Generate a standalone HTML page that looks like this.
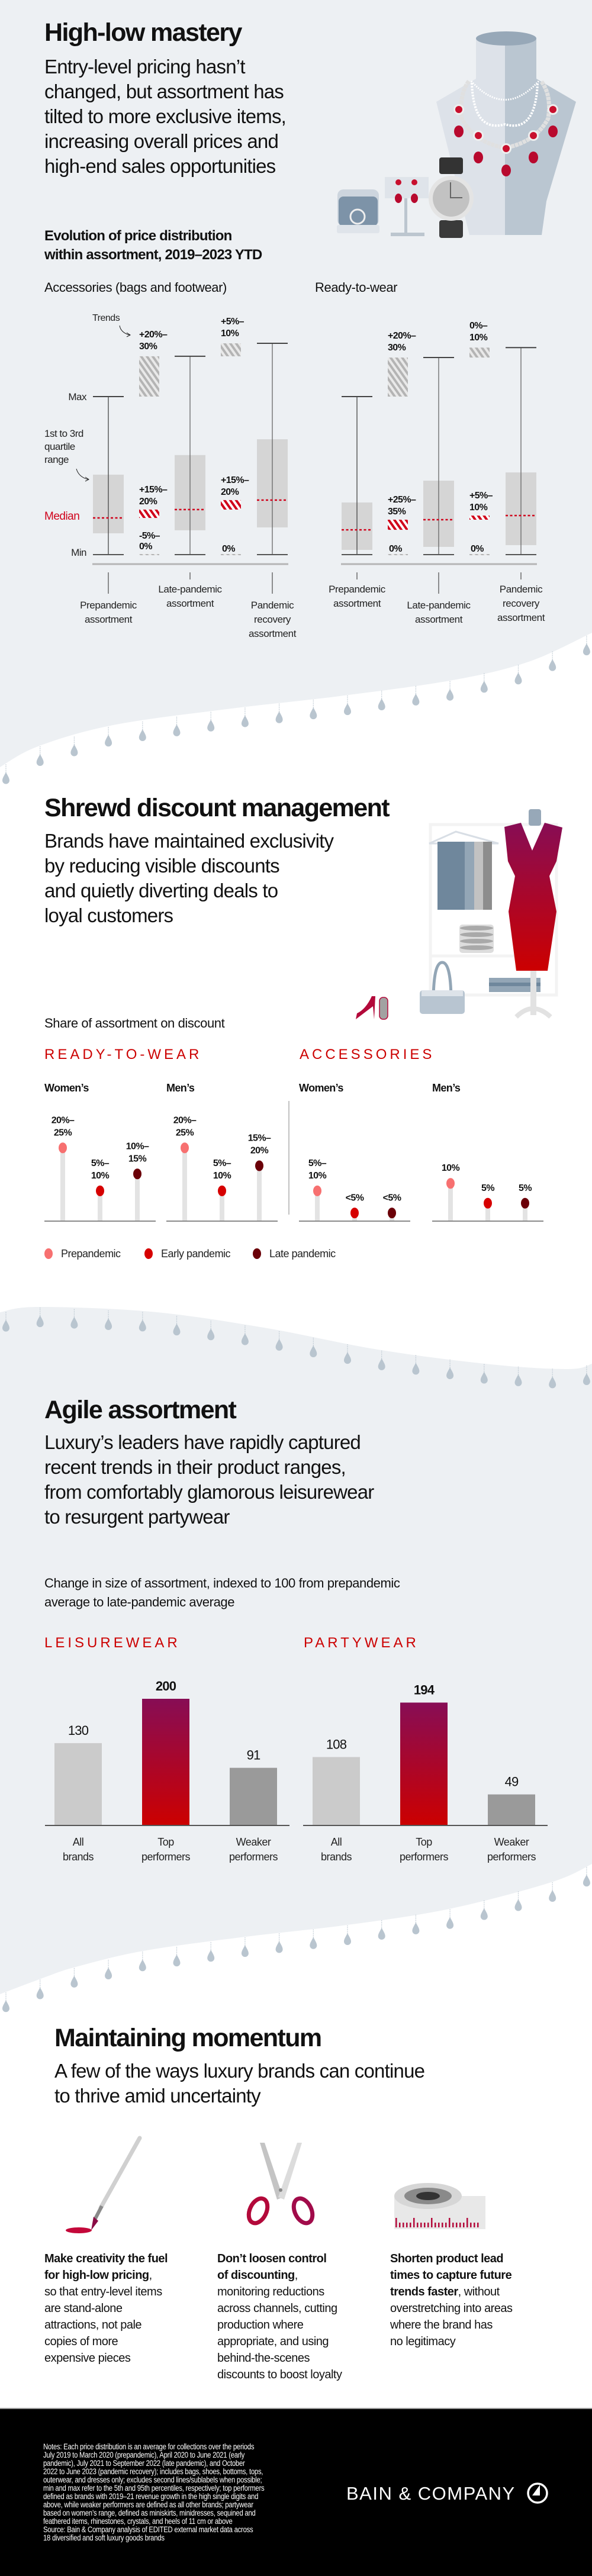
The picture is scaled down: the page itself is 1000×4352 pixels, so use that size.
<!DOCTYPE html>
<html><head><meta charset="utf-8">
<style>
html,body{margin:0;padding:0}
body{width:1000px;height:4352px;position:relative;overflow:hidden;background:#fff;font-family:"Liberation Sans",sans-serif;color:#111}
#art{position:absolute;left:0;top:0}
.t{position:absolute;margin:0;white-space:nowrap}
.h{font-size:43px;font-weight:bold;letter-spacing:-1.6px;line-height:50px}
.sub{font-size:33px;letter-spacing:-0.8px;line-height:42px}
.cap{font-size:22px;letter-spacing:-0.4px;line-height:32px}
.sec{font-size:24px;letter-spacing:5px;color:#cc0000;line-height:30px}
.col{font-size:20px;line-height:28px;letter-spacing:-0.5px}
</style></head>
<body>
<svg id="art" width="1000" height="4352">
<defs>
<pattern id="hatchGrey" width="8" height="8" patternUnits="userSpaceOnUse" patternTransform="rotate(-35)"><rect width="8" height="8" fill="#e9e9e9"/><rect width="4" height="8" fill="#b4b4b4"/></pattern>
<pattern id="hatchRed" width="8" height="8" patternUnits="userSpaceOnUse" patternTransform="rotate(-35)"><rect width="8" height="8" fill="#fff"/><rect width="4" height="8" fill="#d0021b"/></pattern>
<linearGradient id="barGrad" x1="0" y1="0" x2="0" y2="1"><stop offset="0" stop-color="#870d55"/><stop offset="1" stop-color="#cc0000"/></linearGradient>
</defs>
</svg>

<h1 class="t h" style="left:75px;top:30px">High-low mastery</h1>
<p class="t sub" style="left:75px;top:92px">Entry-level pricing hasn’t<br>changed, but assortment has<br>tilted to more exclusive items,<br>increasing overall prices and<br>high-end sales opportunities</p>
<p class="t" style="left:75px;top:383px;font-size:24px;font-weight:bold;letter-spacing:-0.8px;line-height:32px">Evolution of price distribution<br>within assortment, 2019–2023 YTD</p>
<p class="t cap" style="left:75px;top:470px">Accessories (bags and footwear)</p>
<p class="t cap" style="left:532px;top:470px">Ready-to-wear</p>

<h1 class="t h" style="left:75px;top:1340px">Shrewd discount management</h1>
<p class="t sub" style="left:75px;top:1400px">Brands have maintained exclusivity<br>by reducing visible discounts<br>and quietly diverting deals to<br>loyal customers</p>
<p class="t cap" style="left:75px;top:1713px">Share of assortment on discount</p>
<p class="t sec" style="left:75px;top:1767px">READY-TO-WEAR</p>
<p class="t sec" style="left:506px;top:1767px">ACCESSORIES</p>

<h1 class="t h" style="left:75px;top:2357px">Agile assortment</h1>
<p class="t sub" style="left:75px;top:2416px">Luxury’s leaders have rapidly captured<br>recent trends in their product ranges,<br>from comfortably glamorous leisurewear<br>to resurgent partywear</p>
<p class="t cap" style="left:75px;top:2659px">Change in size of assortment, indexed to 100 from prepandemic<br>average to late-pandemic average</p>
<p class="t sec" style="left:75px;top:2761px">LEISUREWEAR</p>
<p class="t sec" style="left:513px;top:2761px">PARTYWEAR</p>

<h1 class="t h" style="left:92px;top:3418px">Maintaining momentum</h1>
<p class="t sub" style="left:92px;top:3478px">A few of the ways luxury brands can continue<br>to thrive amid uncertainty</p>
<p class="t col" style="left:75px;top:3802px"><b>Make creativity the fuel<br>for high-low pricing</b>,<br>so that entry-level items<br>are stand-alone<br>attractions, not pale<br>copies of more<br>expensive pieces</p>
<p class="t col" style="left:367px;top:3802px"><b>Don’t loosen control<br>of discounting</b>,<br>monitoring reductions<br>across channels, cutting<br>production where<br>appropriate, and using<br>behind-the-scenes<br>discounts to boost loyalty</p>
<p class="t col" style="left:659px;top:3802px"><b>Shorten product lead<br>times to capture future<br>trends faster</b>, without<br>overstretching into areas<br>where the brand has<br>no legitimacy</p>

<p class="t" style="left:73px;top:4127px;color:#fff;font-size:13.5px;line-height:14px;letter-spacing:-0.3px;transform:scaleX(0.84);transform-origin:left top">Notes: Each price distribution is an average for collections over the periods<br>July 2019 to March 2020 (prepandemic), April 2020 to June 2021 (early<br>pandemic), July 2021 to September 2022 (late pandemic), and October<br>2022 to June 2023 (pandemic recovery); includes bags, shoes, bottoms, tops,<br>outerwear, and dresses only; excludes second lines/sublabels when possible;<br>min and max refer to the 5th and 95th percentiles, respectively; top performers<br>defined as brands with 2019–21 revenue growth in the high single digits and<br>above, while weaker performers are defined as all other brands; partywear<br>based on women’s range, defined as miniskirts, minidresses, sequined and<br>feathered items, rhinestones, crystals, and heels of 11 cm or above<br>Source: Bain &amp; Company analysis of EDITED external market data across<br>18 diversified and soft luxury goods brands</p>
<p class="t" style="left:585px;top:4195px;color:#fff;font-size:31px;letter-spacing:1.5px;line-height:36px">BAIN &amp; COMPANY</p>

<script>
const NS="http://www.w3.org/2000/svg";
const svg=document.getElementById('art');
function el(tag,attrs,parent){const e=document.createElementNS(NS,tag);for(const k in attrs)e.setAttribute(k,attrs[k]);(parent||svg).appendChild(e);return e;}
function txt(x,y,s,attrs,parent){const e=el('text',Object.assign({x:x,y:y},attrs),parent);e.textContent=s;return e;}

/* ---------- chart data: price distribution box plots (index, min=0, prepandemic max=100) ---------- */
const boxCategories=[["Prepandemic","assortment"],["Late-pandemic","assortment"],["Pandemic","recovery","assortment"]];
const accMax=[100,125.5,133.7];
const accQ3=[50.6,63,73];
const accMedian=[23.2,28.5,34.5];
const accQ1=[13.5,15.4,17.2];
const accMin=[0,0,0];
const rtwMax=[100,124.7,131];
const rtwQ3=[33,46.8,52];
const rtwMedian=[15.7,22.1,24.7];
const rtwQ1=[3,4.9,6];
const rtwMin=[0,0,0];
const accTopTrend=[["+20%–","30%"],["+5%–","10%"]];
const accMedTrend=[["+15%–","20%"],["+15%–","20%"]];
const accMinTrend=[["-5%–","0%"],["0%"]];
const rtwTopTrend=[["+20%–","30%"],["0%–","10%"]];
const rtwMedTrend=[["+25%–","35%"],["+5%–","10%"]];
const rtwMinTrend=[["0%"],["0%"]];

/* ---------- chart data: share on discount (%) ---------- */
const discountPanels=["Women’s","Men’s","Women’s","Men’s"];
const discountPeriods=["Prepandemic","Early pandemic","Late pandemic"];
const rtwWomenValues=[22.5,9.3,14.5];
const rtwMenValues=[22.5,9.3,17];
const accWomenValues=[9.3,2.5,2.5];
const accMenValues=[11.6,5.5,5.5];
const rtwWomenLabels=[["20%–","25%"],["5%–","10%"],["10%–","15%"]];
const rtwMenLabels=[["20%–","25%"],["5%–","10%"],["15%–","20%"]];
const accWomenLabels=[["5%–","10%"],["<5%"],["<5%"]];
const accMenLabels=[["10%"],["5%"],["5%"]];

/* ---------- chart data: assortment size index ---------- */
const barCategories=[["All","brands"],["Top","performers"],["Weaker","performers"]];
const leisureValues=[130,200,91];
const partyValues=[108,194,49];

/* ---------- backgrounds & waves ---------- */
function smoothPath(p){let d='';for(let i=0;i<p.length-1;i++){const p0=p[Math.max(i-1,0)],p1=p[i],p2=p[i+1],p3=p[Math.min(i+2,p.length-1)];
 const c1=[p1[0]+(p2[0]-p0[0])/6,p1[1]+(p2[1]-p0[1])/6],c2=[p2[0]-(p3[0]-p1[0])/6,p2[1]-(p3[1]-p1[1])/6];
 d+=` C${c1[0]},${c1[1]} ${c2[0]},${c2[1]} ${p2[0]},${p2[1]}`;}return d;}
function yAt(p,x){for(let i=0;i<p.length-1;i++){if(x>=p[i][0]&&x<=p[i+1][0]){const t=(x-p[i][0])/(p[i+1][0]-p[i][0]);return p[i][1]+t*(p[i+1][1]-p[i][1]);}}return p[p.length-1][1];}
function drops(p,x0,name){for(let x=x0;x<1000;x+=57.7){const y=yAt(p,x)+1;
 const ln=el('line',{x1:x,y1:y,x2:x,y2:y+14,stroke:'#b9c5cf','stroke-width':1.2,'stroke-dasharray':'1.5,1.5'});
 
 
 const t=y+13;
 const dp=el('path',{d:`M${x},${t} C${x-3},${t+6} ${x-6},${t+10} ${x-6},${t+14} A6,6 0 0 0 ${x+6},${t+14} C${x+6},${t+10} ${x+3},${t+6} ${x},${t} Z`,fill:'#b9c5cf'});
 
 }}
const w1=[[0,1296],[64,1261],[191,1225],[383,1198],[574,1176],[765,1149],[893,1118],[1000,1069]];
const sec1=el('path',{d:`M0,0 L1000,0 L${w1[w1.length-1][0]},${w1[w1.length-1][1]} `+smoothPath(w1.slice().reverse())+` Z`,fill:'#edf0f3'});


drops(w1,10,'wave1-drop');
const w2=[[0,2217],[64,2208],[255,2216],[446,2243],[638,2280],[829,2305],[960,2313],[1000,2304]];
const w3=[[0,3369],[77,3340],[128,3323],[242,3296],[415,3272],[587,3252],[759,3225],[931,3180],[1000,3149]];
const sec3=el('path',{d:`M0,2217`+smoothPath(w2)+` L1000,3149`+smoothPath(w3.slice().reverse())+` Z`,fill:'#edf0f3'});


drops(w2,10,'wave2-drop');
drops(w3,10,'wave3-drop');
const foot=el('rect',{x:0,y:4070,width:1000,height:282,fill:'#000'});


const footLine=el('rect',{x:0,y:4068,width:1000,height:2,fill:'#999'});


const logo=el('g',{});


el('circle',{cx:908,cy:4212,r:16,fill:'none',stroke:'#fff','stroke-width':3.5},logo);
el('path',{d:'M912,4198 L912,4216 L899,4216 Z',fill:'#fff'},logo);

/* ---------- box plot chart ---------- */
const boxY=v=>937-v*2.67;
const boxFont={'font-family':'Liberation Sans, sans-serif'};
function boxPanel(xs,hx,mx,q3,md,q1,mn,topT,medT,minT,name,tickLong){
 const g=el('g',{});
 
 
 const base=el('line',{x1:xs[0]-27,x2:xs[2]+27,y1:953,y2:953,stroke:'#b5b5b5','stroke-width':3},g);
 
 
 for(let i=0;i<3;i++){const x=xs[i];
  const box=el('rect',{x:x-26,y:boxY(q3[i]),width:52,height:boxY(q1[i])-boxY(q3[i]),fill:'#d5d5d5'},g);
  
  
  const wh=el('line',{x1:x,x2:x,y1:boxY(mx[i]),y2:boxY(mn[i]),stroke:i==0?'#444':'#666','stroke-width':1.3},g);
  
  
  const capT=el('line',{x1:x-26,x2:x+26,y1:boxY(mx[i]),y2:boxY(mx[i]),stroke:'#444','stroke-width':2},g);
  
  
  const capB=el('line',{x1:x-26,x2:x+26,y1:boxY(mn[i]),y2:boxY(mn[i]),stroke:'#555','stroke-width':2},g);
  
  
  const med=el('line',{x1:x-26,x2:x+26,y1:boxY(md[i]),y2:boxY(md[i]),stroke:'#d0021b','stroke-width':2.5,'stroke-dasharray':'4,3.5'},g);
  
  
  const long=tickLong[i];
  const tk=el('line',{x1:x,x2:x,y1:967,y2:long?1003:979,stroke:'#555','stroke-width':1.3},g);
  
  
  const lines=boxCategories[i];const y0=long?1022:995;
  lines.forEach((s,k)=>{const t=txt(x,y0+k*24+6,s,Object.assign({'font-size':17,'text-anchor':'middle',fill:'#222','letter-spacing':'-0.4'},boxFont),g);
   
   });
 }
 for(let j=0;j<2;j++){const x=hx[j];
  const ht=el('rect',{x:x-17,y:boxY(mx[j+1]),width:34,height:boxY(mx[j])-boxY(mx[j+1]),fill:'url(#hatchGrey)'},g);
  
  
  const hm=el('rect',{x:x-17,y:boxY(md[j+1]),width:34,height:Math.max(2,boxY(md[j])-boxY(md[j+1])),fill:'url(#hatchRed)'},g);
  
  
  const hb=el('rect',{x:x-17,y:boxY(mn[j])-1,width:34,height:2,fill:'url(#hatchGrey)'},g);
  
  
  const tl=topT[j];tl.forEach((s,k)=>{const t=txt(x-17,boxY(mx[j+1])-38+k*20+6,s,Object.assign({'font-size':16,'font-weight':'bold',fill:'#111','letter-spacing':'-0.6'},boxFont),g);
   
   });
  const ml=medT[j];ml.forEach((s,k)=>{const t=txt(x-17,boxY(md[j+1])-35+k*20+6,s,Object.assign({'font-size':16,'font-weight':'bold',fill:'#111','letter-spacing':'-0.6'},boxFont),g);
   
   });
  const nl=minT[j];nl.forEach((s,k)=>{const yy=nl.length==2?904+k*18:926;const t=txt(x-17+(nl.length==1?2:0),yy+6,s,Object.assign({'font-size':16,'font-weight':'bold',fill:'#111','letter-spacing':'-0.6'},boxFont),g);
   
   });
 }
}
boxPanel([183,321,460],[252,390],accMax,accQ3,accMedian,accQ1,accMin,accTopTrend,accMedTrend,accMinTrend,'accessories-box-chart',[true,false,true]);
boxPanel([603,741,880],[672,810],rtwMax,rtwQ3,rtwMedian,rtwQ1,rtwMin,rtwTopTrend,rtwMedTrend,rtwMinTrend,'rtw-box-chart',[false,true,false]);
const annot=el('g',{'font-family':'Liberation Sans, sans-serif','font-size':17,fill:'#222','letter-spacing':'-0.5'});


const aMax=txt(146,boxY(100)+6,'Max',{'text-anchor':'end'},annot);


const aMin=txt(146,boxY(0)+2,'Min',{'text-anchor':'end'},annot);


const aMed=txt(75,878,'Median',{fill:'#d0021b','font-size':19},annot);


['1st to 3rd','quartile','range'].forEach((s,k)=>{const t=txt(75,738+k*22,s,{},annot);
 
 });
const aTr=txt(156,542,'Trends',{'font-size':16},annot);


const arr1=el('path',{d:'M202,550 Q204,562 219,566 M214,562 L220,566 L214,569',fill:'none',stroke:'#222','stroke-width':1},annot);


const arr2=el('path',{d:'M129,792 Q133,806 149,810 M144,806 L150,810 L144,813',fill:'none',stroke:'#222','stroke-width':1},annot);



/* ---------- lollipop chart ---------- */
const lolY=v=>2063-v*5.5;
const dotColors=['#f77070','#d60000','#6b0008'];
const lolPanels=[[75,rtwWomenValues,rtwWomenLabels],[281,rtwMenValues,rtwMenLabels],[505,accWomenValues,accWomenLabels],[730,accMenValues,accMenLabels]];
lolPanels.forEach((p,pi)=>{const x0=p[0];
 const g=el('g',{'font-family':'Liberation Sans, sans-serif'});
 
 
 const hd=txt(x0,1844,discountPanels[pi],{'font-size':18,'font-weight':'bold','letter-spacing':'-0.6',fill:'#111'},g);
 
 
 const bl=el('line',{x1:x0,x2:x0+188,y1:2063,y2:2063,stroke:'#8a8a8a','stroke-width':2},g);
 
 
 p[1].forEach((v,i)=>{const x=x0+31+i*63;
  const st=el('rect',{x:x-4,y:lolY(v),width:8,height:2062-lolY(v),fill:'#e3e3e3'},g);
  
  
  const dt=el('ellipse',{cx:x,cy:lolY(v),rx:7,ry:9,fill:dotColors[i]},g);
  
  
  const L=p[2][i];L.forEach((s,k)=>{const yy=lolY(v)-(L.length==2?48:27)+k*21+6;
   const t=txt(x,yy,s,{'font-size':16,'font-weight':'bold','text-anchor':'middle','letter-spacing':'-0.6',fill:'#111'},g);
   
   });
 });
});
const divider=el('line',{x1:488,x2:488,y1:1860,y2:2052,stroke:'#999','stroke-width':1.2});


const legX=[82,251,434];
discountPeriods.forEach((s,i)=>{const lg=el('g',{});
 
 
 el('ellipse',{cx:legX[i],cy:2118,rx:7,ry:9,fill:dotColors[i]},lg);
 txt(legX[i]+21,2124,s,{'font-family':'Liberation Sans, sans-serif','font-size':18,'letter-spacing':'-0.5',fill:'#222'},lg);});

/* ---------- bar chart ---------- */
const barY=v=>3084-v*1.07;
const barFills=['#cbcbcb','url(#barGrad)','#9a9a9a'];
[[76,leisureValues,'leisurewear'],[512,partyValues,'partywear']].forEach(p=>{const x0=p[0];
 const g=el('g',{'font-family':'Liberation Sans, sans-serif'});
 
 
 p[1].forEach((v,i)=>{const x=x0+16+i*148;
  const b=el('rect',{x:x,y:barY(v),width:80,height:3084-barY(v),fill:barFills[i]},g);
  
  
  const vl=txt(x+40,barY(v)-14,String(v),{'font-size':22,'text-anchor':'middle','font-weight':i==1?'bold':'normal','letter-spacing':'-0.8',fill:'#111'},g);
  
  
  barCategories[i].forEach((s,k)=>{const t=txt(x+40,3118+k*25,s,{'font-size':18,'text-anchor':'middle','letter-spacing':'-0.5',fill:'#222'},g);
   
   });
 });
 const ax=el('line',{x1:x0,x2:x0+413,y1:3084,y2:3084,stroke:'#555','stroke-width':2},g);
 
 
});

/* ---------- illustrations ---------- */
const jew=el('g',{});


el('path',{d:'M804,65 L804,133 L737,172 L793,397 L853,397 L853,65 Z',fill:'#dde2e9'},jew);
el('path',{d:'M853,65 L906,65 L906,133 L973,172 L923,340 L915,397 L853,397 Z',fill:'#bac6d1'},jew);
el('ellipse',{cx:855,cy:65,rx:51,ry:12,fill:'#97a8b8'},jew);
el('path',{d:'M796,137 Q853,200 910,137',fill:'none',stroke:'#fff','stroke-width':3,'stroke-dasharray':'2,2'},jew);
el('path',{d:'M797,140 Q800,225 853,210 Q905,225 908,140',fill:'none',stroke:'#fff','stroke-width':4,'stroke-dasharray':'3,2'},jew);
el('path',{d:'M792,137 Q775,160 780,200 Q800,240 853,250 Q905,240 926,200 Q932,160 914,137',fill:'none',stroke:'#e0e0e0','stroke-width':7,'stroke-dasharray':'6,1'},jew);
[[775,185],[808,229],[855,251],[901,229],[934,185]].forEach(c=>{el('circle',{cx:c[0],cy:c[1],r:9,fill:'#eee'},jew);el('circle',{cx:c[0],cy:c[1],r:6,fill:'#c8102e'},jew);el('ellipse',{cx:c[0],cy:c[1]+37,rx:8,ry:10,fill:'#b8092e'},jew);});
el('rect',{x:742,y:266,width:40,height:28,rx:4,fill:'#333'},jew);
el('rect',{x:742,y:372,width:40,height:30,rx:4,fill:'#3a3a3a'},jew);
el('circle',{cx:762,cy:335,r:38,fill:'#e4e4e4'},jew);
el('circle',{cx:762,cy:335,r:31,fill:'#c2c2c2'},jew);
el('path',{d:'M761,308 L761,334 L781,334',fill:'none',stroke:'#666','stroke-width':2},jew);
el('rect',{x:650,y:299,width:74,height:36,fill:'#dfe4ea'},jew);
el('rect',{x:683,y:335,width:5,height:62,fill:'#bcc6cf'},jew);
el('rect',{x:660,y:393,width:57,height:6,fill:'#bcc6cf'},jew);
[673,700].forEach(x=>{el('circle',{cx:x,cy:308,r:5,fill:'#c8102e'},jew);el('ellipse',{cx:x,cy:335,rx:6,ry:8,fill:'#b8092e'},jew);});
el('rect',{x:570,y:320,width:70,height:62,rx:10,fill:'#cdd5de'},jew);
el('rect',{x:572,y:332,width:66,height:50,rx:8,fill:'#7d93a8'},jew);
el('circle',{cx:604,cy:366,r:12,fill:'none',stroke:'#eee','stroke-width':3},jew);
el('rect',{x:569,y:380,width:72,height:14,rx:3,fill:'#dfe4ea'},jew);

const fash=el('g',{});


el('rect',{x:727,y:1393,width:213,height:288,fill:'none',stroke:'#f3f3f3','stroke-width':5},fash);
el('line',{x1:727,y1:1615,x2:870,y2:1615,stroke:'#f3f3f3','stroke-width':5},fash);
el('path',{d:'M725,1425 L770,1405 L842,1425 Z',fill:'none',stroke:'#d8dee5','stroke-width':3},fash);
el('rect',{x:739,y:1422,width:46,height:115,fill:'#6f879c'},fash);
el('rect',{x:785,y:1422,width:16,height:115,fill:'#93a6b6'},fash);
el('rect',{x:801,y:1422,width:15,height:115,fill:'#c2c2c2'},fash);
el('rect',{x:816,y:1422,width:15,height:115,fill:'#8d8d8d'},fash);
el('rect',{x:776,y:1562,width:58,height:48,rx:5,fill:'#ddd'},fash);
[1568,1579,1590,1601].forEach(y=>el('ellipse',{cx:805,cy:y,rx:28,ry:4,fill:'#a9a9a9'},fash));
el('rect',{x:826,y:1652,width:87,height:24,fill:'#93a6b6'},fash);
el('rect',{x:826,y:1660,width:87,height:6,fill:'#6f879c'},fash);
el('rect',{x:893,y:1367,width:21,height:28,rx:4,fill:'#97a8b8'},fash);
el('path',{d:'M852,1397 L880,1390 L899,1437 L920,1390 L950,1398 L940,1455 L928,1480 L940,1540 L925,1640 L872,1640 L859,1540 L870,1480 L858,1455 Z',fill:'url(#barGrad)'},fash);
el('rect',{x:896,y:1640,width:10,height:75,fill:'#e2e2e2'},fash);
el('path',{d:'M872,1718 Q900,1690 930,1718',fill:'none',stroke:'#e2e2e2','stroke-width':8},fash);
el('path',{d:'M732,1693 Q732,1626 747,1626 Q762,1626 762,1693',fill:'none',stroke:'#93a6b6','stroke-width':5},fash);
el('rect',{x:709,y:1673,width:76,height:40,rx:5,fill:'#b8c5d1'},fash);
el('rect',{x:712,y:1673,width:70,height:10,fill:'#dde3e9'},fash);
el('path',{d:'M601,1722 L603,1712 Q618,1705 628,1683 L634,1683 L632,1722 L630,1700 Z',fill:'#b3093a'},fash);
el('rect',{x:641,y:1685,width:14,height:37,rx:6,fill:'#a2a2a2',stroke:'#b3093a','stroke-width':1.5},fash);

const tools=el('g',{});


el('line',{x1:236,y1:3612,x2:170,y2:3730,stroke:'#d0d0d0','stroke-width':7,'stroke-linecap':'round'},tools);
el('line',{x1:172,y1:3727,x2:160,y2:3750,stroke:'#8a8a8a','stroke-width':6},tools);
el('path',{d:'M158,3745 L166,3752 L154,3768 Z',fill:'#8a0b45'},tools);
el('ellipse',{cx:133,cy:3768,rx:22,ry:5,fill:'#c4083a'},tools);
el('path',{d:'M439,3620 L447,3620 L478,3712 L468,3716 Z',fill:'#c4c4c4'},tools);
el('path',{d:'M510,3620 L502,3620 L470,3712 L480,3716 Z',fill:'#dcdcdc'},tools);
el('circle',{cx:474,cy:3700,r:3,fill:'#888'},tools);
el('ellipse',{cx:436,cy:3735,rx:14,ry:22,fill:'none',stroke:'#b3093a','stroke-width':7,transform:'rotate(25 436 3735)'},tools);
el('ellipse',{cx:512,cy:3735,rx:14,ry:22,fill:'none',stroke:'#a10b4a','stroke-width':7,transform:'rotate(-25 512 3735)'},tools);
el('rect',{x:666,y:3710,width:154,height:56,fill:'#e8e8e8'},tools);
el('ellipse',{cx:723,cy:3710,rx:57,ry:22,fill:'#d6d6d6'},tools);
el('ellipse',{cx:723,cy:3710,rx:40,ry:14,fill:'#8a8a8a'},tools);
el('ellipse',{cx:723,cy:3710,rx:20,ry:7,fill:'#333'},tools);
for(let i=0;i<24;i++){el('rect',{x:668+i*6,y:3763-(i%5==0?16:8),width:2.5,height:(i%5==0?16:8),fill:'#b3093a'},tools);}
</script>
</body></html>
